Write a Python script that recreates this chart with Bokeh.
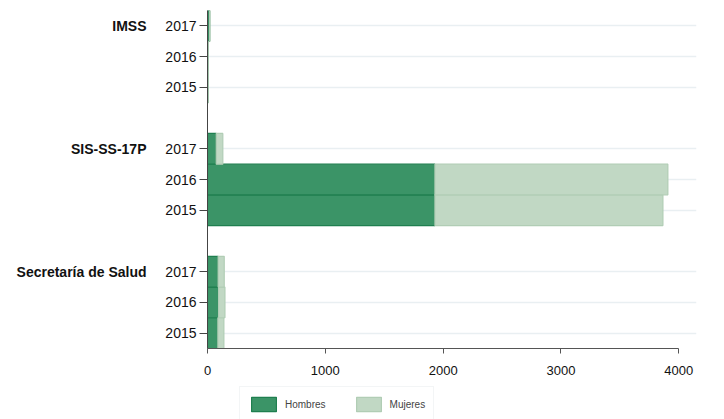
from bokeh.plotting import figure
from bokeh.models import Range1d, ColumnDataSource, FixedTicker, Legend, LinearAxis
from bokeh.layouts import column
from bokeh.embed import file_html
from bokeh.resources import INLINE

groups = ["IMSS", "SIS-SS-17P", "Secretaría de Salud"]
years = ["2017", "2016", "2015"]
# values per group, in the order of years above
hombres = {
    "IMSS": [18, 5, 5],
    "SIS-SS-17P": [74, 1930, 1930],
    "Secretaría de Salud": [90, 94, 88],
}
mujeres = {
    "IMSS": [3, 1, 1],
    "SIS-SS-17P": [56, 1977, 1935],
    "Secretaría de Salud": [52, 54, 51],
}
series = ["Hombres", "Mujeres"]
x_ticks = [0, 1000, 2000, 3000, 4000]

GROUP_PAD = 1.0
n_years = len(years)
span = len(groups) * n_years + (len(groups) - 1) * GROUP_PAD

# row positions, bottom to top (last group at the bottom, 2015 lowest in each group)
ypos, h_vals, m_vals = [], [], []
year_labels = {}
grp_ticks, grp_names = [], {}
for gi, g in enumerate(reversed(groups)):
    for k, i in enumerate(reversed(range(n_years))):
        pos = gi * (n_years + GROUP_PAD) + k + 0.5
        ypos.append(pos)
        h_vals.append(hombres[g][i])
        m_vals.append(mujeres[g][i])
        year_labels[pos] = years[i]
        if i == 0:
            grp_ticks.append(pos)
            grp_names[pos] = g

source = ColumnDataSource(dict(y=ypos, Hombres=h_vals, Mujeres=m_vals))

FONT = "Liberation Sans"
FILLS = ["#3b9467", "#c1d8c4"]
LINES = ["#1f7f4f", "#b1cdb5"]

p = figure(width=724, height=382, output_backend="svg", toolbar_location=None,
           y_range=Range1d(0, span), x_range=Range1d(0, 4150),
           min_border_left=207, min_border_right=28, min_border_top=10, min_border_bottom=34)
p.outline_line_color = None

rs = p.hbar_stack(series, y="y", height=1.0, source=source,
                  fill_color=FILLS, line_color=LINES, line_width=1.2)

# x axis
xa = p.xaxis[0]
xa.ticker = FixedTicker(ticks=x_ticks)
xa.bounds = (0, 4000)
xa.minor_tick_line_color = None
xa.major_tick_out = 5
xa.major_tick_in = 0
xa.major_label_standoff = 12
xa.major_label_text_font = FONT
xa.major_label_text_font_size = "13px"
xa.major_label_text_color = "#111111"
xa.axis_line_color = "#555555"
xa.major_tick_line_color = "#555555"

# y axis with the years
ya = p.yaxis[0]
ya.ticker = FixedTicker(ticks=ypos)
ya.major_label_overrides = year_labels
ya.minor_tick_line_color = None
ya.major_tick_out = 8
ya.major_tick_in = 0
ya.major_label_standoff = 3
ya.major_label_text_font = FONT
ya.major_label_text_font_size = "14px"
ya.major_label_text_color = "#111111"
ya.axis_line_color = "#444444"
ya.major_tick_line_color = "#444444"

# group labels: a second left axis, one tick at each group's top year
ga = LinearAxis(ticker=FixedTicker(ticks=grp_ticks),
                major_label_overrides=grp_names,
                axis_line_color=None, major_tick_line_color=None, minor_tick_line_color=None,
                major_tick_out=0, major_tick_in=0, major_label_standoff=16,
                major_label_text_font=FONT, major_label_text_font_size="14px",
                major_label_text_font_style="bold", major_label_text_color="#111111")
p.add_layout(ga, "left")

p.xgrid.grid_line_color = None
p.ygrid.ticker = FixedTicker(ticks=ypos)
p.ygrid.grid_line_color = "#e9eff2"
p.ygrid.grid_line_width = 1.5

# legend strip below the chart (same series, bars kept out of view of this strip)
lg = figure(width=724, height=37, output_backend="svg", toolbar_location=None,
            x_axis_type=None, y_axis_type=None,
            x_range=Range1d(0, 4150), y_range=Range1d(span + 1, span + 2),
            min_border=0)
lg.outline_line_color = None
keys = lg.hbar_stack(series, y="y", height=1.0, source=source,
                     fill_color=FILLS, line_color=LINES, line_width=1.2)
legend = Legend(items=[(series[j], [keys[j]]) for j in range(len(series))],
                orientation="horizontal", location=(32, -3),
                glyph_width=31, glyph_height=18, label_standoff=6, spacing=27,
                padding=8, margin=0,
                label_text_font=FONT, label_text_font_size="10px",
                border_line_color="#e8ecee", background_fill_alpha=1)
lg.add_layout(legend, "center")

open("out.html", "w").write(file_html(column(p, lg, spacing=0), INLINE))
